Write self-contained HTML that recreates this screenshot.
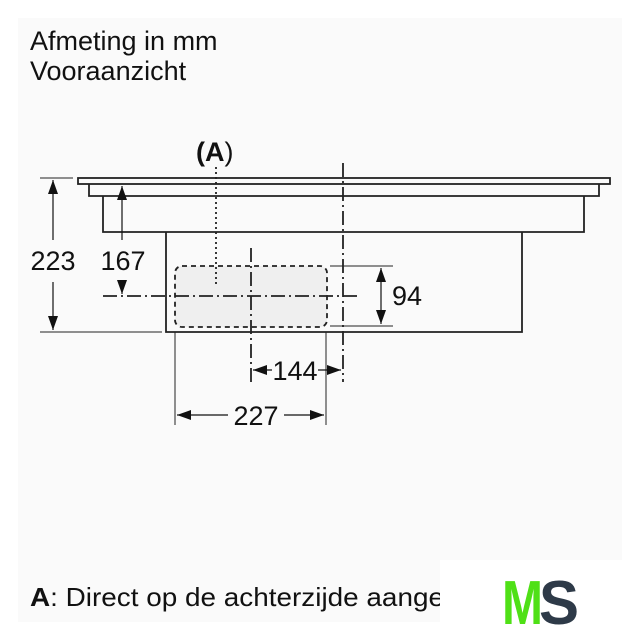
<!DOCTYPE html>
<html><head><meta charset="utf-8"><style>
html,body{margin:0;padding:0;background:#fff;}
svg{display:block;font-family:"Liberation Sans",Arial,sans-serif;}
</style></head><body>
<svg width="640" height="640" viewBox="0 0 640 640">
<defs>
<marker id="ar" viewBox="0 0 14 10" refX="14" refY="5" markerWidth="14" markerHeight="10" orient="auto-start-reverse" markerUnits="userSpaceOnUse"><path d="M0,0 L14,5 L0,10 z" fill="#111"/></marker>
</defs>
<rect x="18" y="18" width="604" height="604" fill="#fafafa"/>
<g fill="#111">
<text x="30" y="50" font-size="27">Afmeting in mm</text>
<text x="30" y="80" font-size="27">Vooraanzicht</text>
</g>
<g stroke="#222" stroke-width="1.8" fill="none">
<rect x="78" y="178" width="532" height="6"/>
<path d="M89,184 V196 H599 V184"/>
<path d="M103,196 V232 H584 V196"/>
<path d="M166,232 V332 H522 V232"/>
</g>
<rect x="175" y="266" width="152" height="61" rx="7" fill="#efefef" stroke="#222" stroke-width="1.8" stroke-dasharray="5,4"/>
<g stroke="#222" stroke-width="1.8" fill="none">
<path d="M103,296 H358" stroke-dasharray="14,4,2,4"/>
<path d="M251,248 V383" stroke-dasharray="14,4,2,4"/>
<path d="M343,163 V382" stroke-dasharray="14,4,2,4"/>
<path d="M216,167 V284" stroke-dasharray="2,3"/>
</g>
<g stroke="#222" stroke-width="1" fill="none">
<path d="M40,178 H73 M40,332 H162"/>
<path d="M330,266 H393 M330,326 H393"/>
<path d="M175,332 V425 M326,332 V425"/>
</g>
<g stroke="#111" stroke-width="1.2" fill="none">
<path d="M53,240 V180" marker-end="url(#ar)"/>
<path d="M53,282 V330" marker-end="url(#ar)"/>
<path d="M122,240 V186" marker-end="url(#ar)"/>
<path d="M122,282 V294" marker-end="url(#ar)"/>
<path d="M381,295 V268" marker-end="url(#ar)"/>
<path d="M381,295 V324" marker-end="url(#ar)"/>
<path d="M272,370 H253" marker-end="url(#ar)"/>
<path d="M318,370 H341" marker-end="url(#ar)"/>
<path d="M228,415 H177" marker-end="url(#ar)"/>
<path d="M284,415 H324" marker-end="url(#ar)"/>
</g>
<g fill="#111" font-size="27">
<text x="196" y="161"><tspan font-weight="bold">(A</tspan>)</text>
<text x="53" y="270" text-anchor="middle">223</text>
<text x="123" y="270" text-anchor="middle">167</text>
<text x="392" y="305">94</text>
<text x="295" y="380" text-anchor="middle">144</text>
<text x="256" y="425" text-anchor="middle">227</text>
<text x="30" y="606" font-size="26" textLength="414" lengthAdjust="spacingAndGlyphs"><tspan font-weight="bold">A</tspan>: Direct op de achterzijde aange</text>
</g>
<rect x="440" y="560" width="200" height="80" fill="#fff"/>
<g font-size="62" font-weight="bold">
<text x="502" y="624" fill="#4fe016" textLength="41" lengthAdjust="spacingAndGlyphs">M</text>
<text x="539" y="624" fill="#2e3a48" textLength="40" lengthAdjust="spacingAndGlyphs">S</text>
</g>
</svg>
</body></html>
